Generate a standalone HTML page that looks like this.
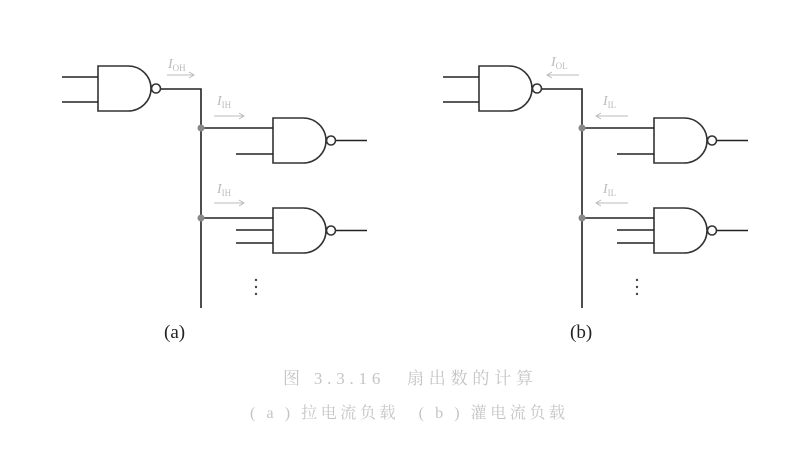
<!DOCTYPE html>
<html><head><meta charset="utf-8"><style>body{margin:0;background:#fff}svg{display:block}</style></head><body>
<svg width="797" height="450" viewBox="0 0 797 450" xmlns="http://www.w3.org/2000/svg">
<defs>
<g id="nand" fill="none" stroke="#333" stroke-width="1.6">
<path d="M0,0 H30 A23,22.5 0 0 1 30,45 H0 Z" fill="#fff"/>
<circle cx="58" cy="22.5" r="4.5" fill="#fff"/>
</g>
<g id="half" stroke="#222" stroke-width="1.6" fill="none">
<use href="#nand" x="98" y="66"/>
<line x1="62" y1="77" x2="98" y2="77"/><line x1="62" y1="102" x2="98" y2="102"/>
<polyline points="161,89 201,89 201,308"/>
<use href="#nand" x="273" y="118"/>
<line x1="201" y1="128" x2="273" y2="128"/><line x1="236" y1="154" x2="273" y2="154"/>
<line x1="336" y1="140.5" x2="367" y2="140.5"/>
<use href="#nand" x="273" y="208"/>
<line x1="201" y1="218" x2="273" y2="218"/><line x1="236" y1="230" x2="273" y2="230"/><line x1="236" y1="243" x2="273" y2="243"/>
<line x1="336" y1="230.5" x2="367" y2="230.5"/>
<circle cx="201" cy="128" r="3.5" fill="#888" stroke="none"/>
<circle cx="201" cy="218" r="3.5" fill="#888" stroke="none"/>
<circle cx="256" cy="280" r="1.2" fill="#444" stroke="none"/>
<circle cx="256" cy="287" r="1.2" fill="#444" stroke="none"/>
<circle cx="256" cy="294" r="1.2" fill="#444" stroke="none"/>
</g>
</defs>
<use href="#half"/>
<use href="#half" x="381"/>
<g font-family="Liberation Serif, serif" fill="#bbb" font-style="italic" font-size="14">
<text x="168" y="68">I<tspan font-size="9" font-style="normal" dy="3">OH</tspan></text>
<text x="217" y="105">I<tspan font-size="9" font-style="normal" dy="3">IH</tspan></text>
<text x="217" y="193">I<tspan font-size="9" font-style="normal" dy="3">IH</tspan></text>
<text x="551" y="66">I<tspan font-size="9" font-style="normal" dy="3">OL</tspan></text>
<text x="603" y="105">I<tspan font-size="9" font-style="normal" dy="3">IL</tspan></text>
<text x="603" y="193">I<tspan font-size="9" font-style="normal" dy="3">IL</tspan></text>
</g>
<g stroke="#bbb" stroke-width="1" fill="none">
<path d="M167,75 H193 M189,72 L194,75 L189,78"/>
<path d="M214,116 H243 M239,113 L244,116 L239,119"/>
<path d="M214,203 H243 M239,200 L244,203 L239,206"/>
<path d="M548,75 H579 M552,72 L547,75 L552,78"/>
<path d="M597,116 H628 M601,113 L596,116 L601,119"/>
<path d="M597,203 H628 M601,200 L596,203 L601,206"/>
</g>
<g font-family="Liberation Serif, serif" font-size="19" fill="#222">
<text x="164" y="338">(a)</text>
<text x="570" y="338">(b)</text>
</g>
<g font-family="Liberation Serif, 'Noto Serif CJK SC', serif" fill="#c4c4c4" font-size="17">
<text x="283" y="384" textLength="250" lengthAdjust="spacing">图 3.3.16　扇出数的计算</text>
<text x="250" y="418" font-size="16" textLength="315" lengthAdjust="spacing">( a ) 拉电流负载　( b ) 灌电流负载</text>
</g>
</svg>
</body></html>
